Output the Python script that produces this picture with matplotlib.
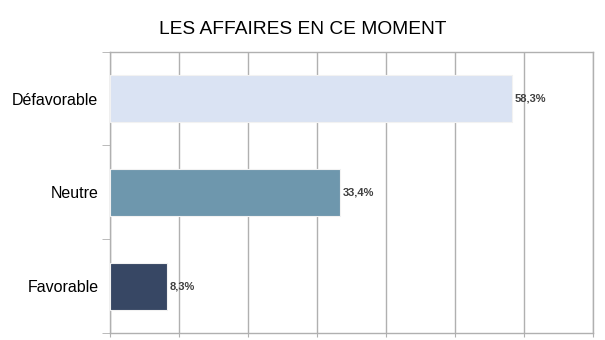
import matplotlib
matplotlib.use("Agg")
import matplotlib.pyplot as plt
import numpy as np

categories = ["Favorable", "Neutre", "Défavorable"]
values = [8.3, 33.4, 58.3]
colors = ["#374764", "#6E97AD", "#DAE3F3"]
title = "LES AFFAIRES EN CE MOMENT"

plt.rcParams['font.family'] = ['Liberation Sans', 'DejaVu Sans']

fig = plt.figure(figsize=(6.05, 3.4), dpi=100)
ax = fig.add_axes([109.5/605, 1-333/340, (593-109.5)/605, (333-51.7)/340])

y = np.arange(len(categories))
ax.barh(y, values, height=0.5, color=colors, edgecolor="#F2F2F2", linewidth=0.8, zorder=3)

for yi, v in zip(y, values):
    ax.text(v + 0.4, yi, f"{v:.1f}%".replace(".", ","), va="center", ha="left",
            fontsize=8, fontweight="bold", color="#404040", zorder=4)

ax.set_xlim(0, 70)
ax.set_ylim(-0.5, 2.5)
ax.set_xticks(np.arange(0, 71, 10))
ax.set_xticklabels([])
ax.xaxis.grid(True, color="#B0B0B0", linewidth=1.0, zorder=0)
ax.tick_params(axis="x", length=3, color="#B0B0B0", direction="out")

ax.set_yticks(y)
ax.set_yticklabels(categories, fontsize=11.5, color="#000000")
ax.tick_params(axis="y", length=0, pad=8)
ax.set_yticks([-0.5, 0.5, 1.5, 2.5], minor=True)
ax.tick_params(axis="y", which="minor", length=6, color="#B0B0B0", direction="out")

for s in ["left", "bottom", "right", "top"]:
    ax.spines[s].set_color("#B0B0B0")
    ax.spines[s].set_linewidth(1.0)

fig.text(0.5, 1-29/340, title, ha="center", va="center", fontsize=13.8, color="#000000")

fig.savefig("out.png", dpi=100)
